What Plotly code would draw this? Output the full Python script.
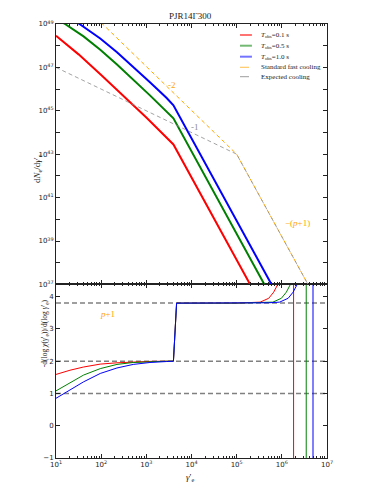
import numpy as np
import plotly.graph_objects as go

# electron spectra, log10(gamma'_e) vs log10(dN/dgamma)
red_lg = [1.0, 1.5, 2.0, 2.5, 3.0, 3.6, 5.5]
red_lN = [48.46, 47.6, 46.65, 45.68, 44.69, 43.45, 36.23]
green_lg = [1.0, 1.2, 1.61, 1.98, 2.35, 2.71, 3.08, 3.6, 5.8]
green_lN = [49.24, 49.0, 48.43, 47.81, 47.13, 46.44, 45.71, 44.65, 36.29]
blue_lg = [1.0, 1.31, 1.52, 1.98, 2.35, 2.71, 3.08, 3.45, 3.6, 5.9]
blue_lN = [49.55, 49.25, 49.0, 48.33, 47.7, 47.03, 46.32, 45.59, 45.25, 36.51]
fast_lg = [1.0, 5.0, 6.8]
fast_lN = [51.08, 43.0, 36.16]
expected_lg = [1.0, 5.0, 6.8]
expected_lN = [47.0, 43.0, 36.16]

# local spectral index -dlog(chi)/dlog(gamma)
red_idx_lg = [1.0, 1.31, 1.61, 1.98, 2.35, 2.71, 3.1, 3.6, 3.67, 5.0, 5.3, 5.52, 5.71, 5.82,
              5.91, 6.0, 6.1, 6.2, 6.25, 6.26, 6.26]
red_idx = [1.59, 1.72, 1.82, 1.91, 1.95, 1.98, 1.995, 2.0, 3.8, 3.8, 3.81, 3.83, 3.95, 4.14,
           4.38, 4.7, 5.3, 6.5, 9.0, 60.0, -60.0]
green_idx_lg = [1.0, 1.31, 1.61, 1.98, 2.35, 2.71, 3.08, 3.45, 3.6, 3.67, 5.0, 5.6, 5.8, 5.99,
                6.10, 6.19, 6.28, 6.38, 6.48, 6.53, 6.54, 6.54]
green_idx = [1.08, 1.33, 1.57, 1.77, 1.9, 1.96, 1.99, 2.0, 2.0, 3.8, 3.8, 3.81, 3.83, 3.95,
             4.14, 4.38, 4.7, 5.3, 6.5, 9.0, 60.0, -60.0]
blue_idx_lg = [1.0, 1.31, 1.61, 1.98, 2.35, 2.71, 3.08, 3.45, 3.6, 3.67, 5.0, 5.7, 5.95, 6.14,
               6.25, 6.34, 6.42, 6.52, 6.62, 6.68, 6.69, 6.69]
blue_idx = [0.85, 1.10, 1.36, 1.62, 1.79, 1.90, 1.96, 1.99, 2.0, 3.8, 3.8, 3.81, 3.83, 3.95,
            4.14, 4.38, 4.7, 5.3, 6.5, 9.0, 60.0, -60.0]
ref_levels = [1.0, 2.0, 3.8]

legend_labels = ["<i>T</i><sub>obs</sub>=0.1 s", "<i>T</i><sub>obs</sub>=0.5 s",
                 "<i>T</i><sub>obs</sub>=1.0 s", "Standard fast cooling", "Expected cooling"]

RED, GREEN, BLUE = "#ff0000", "#008000", "#0000ff"
ORANGE, GREY = "#ffa500", "#8c8c8c"
SERIF = "Liberation Serif"
SANS = "DejaVu Sans"
INK = "#222222"


def pw(values):
    return 10.0 ** np.asarray(values, dtype=float)


fig = go.Figure()

# top panel
for lg, lN, col, name in [(red_lg, red_lN, RED, legend_labels[0]),
                          (green_lg, green_lN, GREEN, legend_labels[1]),
                          (blue_lg, blue_lN, BLUE, legend_labels[2])]:
    fig.add_trace(go.Scatter(x=pw(lg), y=pw(lN), mode="lines", name=name,
                             line=dict(color=col, width=2), xaxis="x2", yaxis="y2"))
fig.add_trace(go.Scatter(x=pw(fast_lg), y=pw(fast_lN), mode="lines", name=legend_labels[3],
                         line=dict(color=ORANGE, width=1, dash="4px,3px"), xaxis="x2", yaxis="y2"))
fig.add_trace(go.Scatter(x=pw(expected_lg), y=pw(expected_lN), mode="lines", name=legend_labels[4],
                         line=dict(color=GREY, width=0.8, dash="4px,3px"), xaxis="x2", yaxis="y2"))

# bottom panel
for lvl in ref_levels:
    fig.add_trace(go.Scatter(x=[10, 1e7], y=[lvl, lvl], mode="lines", showlegend=False,
                             line=dict(color="#808080", width=1.5, dash="5px,3px")))
for lg, val, col in [(red_idx_lg, red_idx, RED), (green_idx_lg, green_idx, GREEN),
                     (blue_idx_lg, blue_idx, BLUE)]:
    fig.add_trace(go.Scatter(x=pw(lg), y=val, mode="lines", showlegend=False,
                             line=dict(color=col, width=1)))

minor_x = [k * 10.0 ** d for d in range(1, 7) for k in range(2, 10)]
axis_common = dict(showline=True, linecolor=INK, linewidth=1, mirror="ticks",
                   ticks="inside", ticklen=4, tickcolor=INK, showgrid=False,
                   zeroline=False, tickfont=dict(family=SANS, size=7, color=INK))
x_major = [10.0 ** d for d in range(1, 8)]
x_text = [f"10<sup>{d}</sup>" for d in range(1, 8)]

# page body adds an 8 px offset, so the figure is 8 px smaller and margins shifted
fig.update_layout(
    width=366, height=490,
    margin=dict(l=48, r=47, t=16, b=40),
    plot_bgcolor="white", paper_bgcolor="white",
    showlegend=False,
    xaxis=dict(type="log", range=[1, 7], domain=[0, 1], anchor="y",
               tickmode="array", tickvals=x_major, ticktext=x_text,
               minor=dict(tickvals=minor_x, ticks="inside", ticklen=2, tickcolor=INK),
               **axis_common),
    yaxis=dict(range=[-1, 4.38], domain=[0, 0.4], anchor="x",
               tickmode="array", tickvals=[-1, 0, 1, 2, 3, 4],
               ticktext=["\u22121", "0", "1", "2", "3", "4"], **axis_common),
    xaxis2=dict(type="log", range=[1, 7], domain=[0, 1], anchor="y2", matches="x",
                tickmode="array", tickvals=x_major, showticklabels=False,
                minor=dict(tickvals=minor_x, ticks="inside", ticklen=2, tickcolor=INK),
                **axis_common),
    yaxis2=dict(type="log", range=[37, 49], domain=[0.4, 1], anchor="x2",
                tickmode="array", tickvals=[10.0 ** d for d in range(37, 50)],
                ticktext=[f"10<sup>{d}</sup>" if d % 2 == 1 else "" for d in range(37, 50)],
                **axis_common),
)

# hand-drawn legend entries (short samples like the original)
leg_styles = [("rgba(255,0,0,0.55)", 2, "solid"), ("rgba(0,128,0,0.55)", 2, "solid"),
              ("rgba(0,0,255,0.55)", 2, "solid"), ("rgba(255,165,0,0.6)", 1.2, "dash"),
              ("rgba(120,120,120,0.9)", 0.8, "dash")]
leg_y = [0.9747, 0.9500, 0.9247, 0.9002, 0.8786]
for (col, w, dash), yy, label in zip(leg_styles, leg_y, legend_labels):
    fig.add_shape(type="line", xref="paper", yref="paper", x0=0.679, x1=0.723, y0=yy, y1=yy,
                  line=dict(color=col, width=w, dash=dash))
    fig.add_annotation(text=label, xref="paper", yref="paper", x=0.748, y=yy, xanchor="left",
                       yanchor="middle", showarrow=False,
                       font=dict(family=SERIF, size=7, color=INK))

ann = dict(showarrow=False, font=dict(family=SERIF, size=9, color=INK))
fig.add_annotation(text="PJR14\u0393300", xref="paper", yref="paper", x=0.495, y=1.003,
                   yanchor="bottom", **ann)
fig.add_annotation(text="-2", xref="x2", yref="y2", x=3.57, y=46.2,
                   font=dict(family=SERIF, size=9, color=ORANGE), showarrow=False)
fig.add_annotation(text="-1", xref="x2", yref="y2", x=4.08, y=44.27,
                   font=dict(family=SERIF, size=9, color=GREY), showarrow=False)
fig.add_annotation(text="\u2212(<i>p</i>+1)", xref="x2", yref="y2", x=6.34, y=39.82,
                   font=dict(family=SERIF, size=9, color=ORANGE), showarrow=False)
fig.add_annotation(text="<i>p</i>+1", xref="x", yref="y", x=2.15, y=3.45,
                   font=dict(family=SERIF, size=9, color=ORANGE), showarrow=False)
fig.add_annotation(text="d<i>N</i><sub>e</sub>/d<i>\u03b3</i>\u2032<sub>e</sub>", xref="paper",
                   yref="paper", x=-0.096, y=0.705, textangle=-90, **ann)
fig.add_annotation(text="-d(log <i>\u03c7</i>(<i>\u03b3</i>\u2032<sub>e</sub>))/d(log <i>\u03b3</i>\u2032<sub>e</sub>)",
                   xref="paper", yref="paper", x=-0.066, y=0.205, textangle=-90,
                   showarrow=False, font=dict(family=SERIF, size=7.5, color=INK))
fig.add_annotation(text="<i>\u03b3</i>\u2032<sub>e</sub>", xref="paper", yref="paper",
                   x=0.495, y=-0.046, yanchor="middle", **ann)

fig.write_html("out.html")
